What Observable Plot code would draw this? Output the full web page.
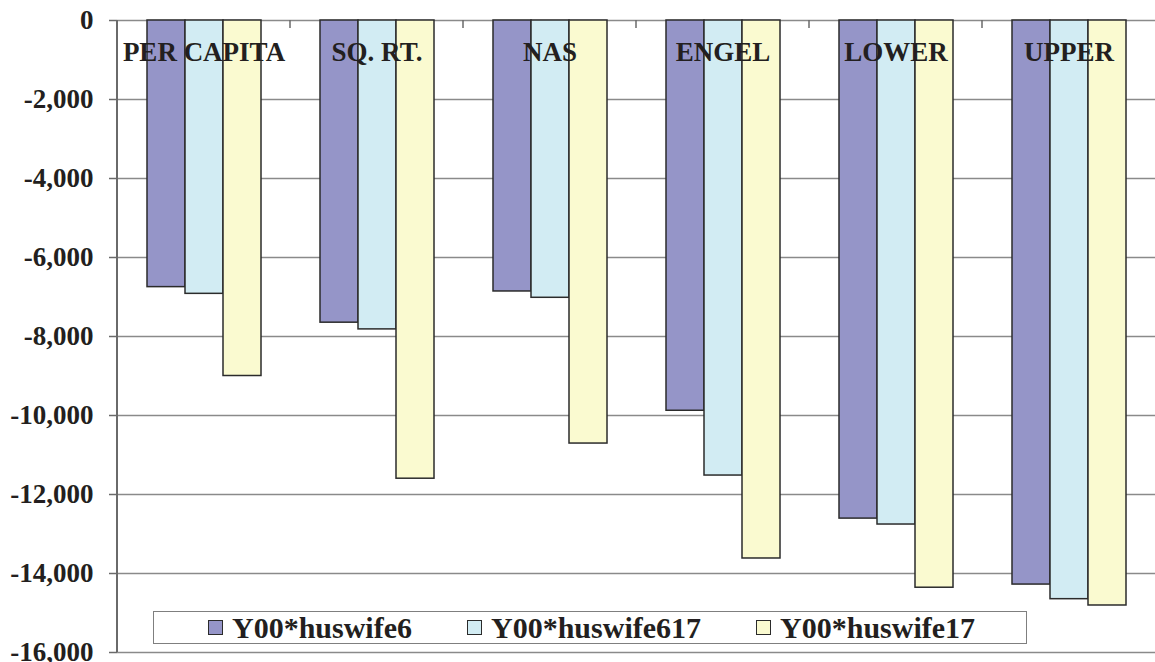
<!DOCTYPE html>
<html>
<head>
<meta charset="utf-8">
<script src="https://cdn.jsdelivr.net/npm/d3@7"></script>
<script src="https://cdn.jsdelivr.net/npm/@observablehq/plot@0.6"></script>
<style>
  html, body { margin: 0; padding: 0; background: #fff; }
  #chart { position: relative; width: 1155px; height: 662px; }
  #legend {
    position: absolute; left: 153px; top: 611px; width: 874px; height: 33px;
    box-sizing: border-box; border: 1.5px solid #7f7f7f; background: #fff;
    display: flex; align-items: center; padding-left: 54px;
    font-family: "Liberation Serif", "Times New Roman", serif; font-weight: bold;
    font-size: 30px; color: #231f20;
  }
  #legend .item { display: flex; align-items: center; margin-right: 55px; }
  #legend .sw { width: 13px; height: 13px; border: 1.5px solid #2b2b2b; margin-right: 9px; }
</style>
</head>
<body>
<div id="chart"></div>
<script>
// Equivalence-scale groups along the x axis
const categories = ["PER CAPITA", "SQ. RT.", "NAS", "ENGEL", "LOWER", "UPPER"];
// Interaction terms (one bar per term in every group)
const series = ["Y00*huswife6", "Y00*huswife617", "Y00*huswife17"];
const colors = ["#9595c8", "#d2ecf3", "#fafad0"];
// Estimated coefficients per group
const huswife6 = [-6750, -7650, -6860, -9880, -12610, -14280];
const huswife617 = [-6920, -7820, -7020, -11520, -12760, -14650];
const huswife17 = [-9000, -11600, -10710, -13620, -14360, -14810];
// Value-axis ticks
const yTicks = [0, -2000, -4000, -6000, -8000, -10000, -12000, -14000, -16000];

const valuesBySeries = [huswife6, huswife617, huswife17];
const rows = [];
categories.forEach((c, i) => {
  series.forEach((s, j) => rows.push({category: c, series: s, value: valuesBySeries[j][i]}));
});

const font = '"Liberation Serif", "Times New Roman", serif';
const ink = "#231f20";

const plot = Plot.plot({
  width: 1155,
  height: 662,
  marginLeft: 117,
  marginRight: 0,
  marginTop: 20,
  marginBottom: 10,
  style: {fontFamily: font, fontWeight: "bold", fontSize: "27px", color: ink, background: "transparent"},
  fx: {domain: categories, paddingInner: 0, paddingOuter: 0, axis: null, label: null},
  x: {domain: series, paddingInner: 0, paddingOuter: 0.75, axis: null, label: null},
  y: {domain: [-16000, 0], axis: null, label: null},
  color: {domain: series, range: colors},
  marks: [
    Plot.gridY(yTicks, {stroke: "#8a8a8a", strokeOpacity: 1, strokeWidth: 1.5}),
    Plot.barY(rows, {
      fx: "category", x: "series", y1: 0, y2: "value",
      fill: "series", stroke: "#2b2b2b", strokeWidth: 1.5
    }),
    Plot.text(categories, {
      fx: d => d, text: d => d, frameAnchor: "top", lineAnchor: "middle", dy: 32,
      fill: ink, fontSize: 27, fontWeight: "bold"
    }),
    Plot.axisY(yTicks, {
      tickSize: 8, tickPadding: 16, stroke: "#6a6a6a", strokeWidth: 1.5,
      fill: ink, fontSize: 27, fontWeight: "bold",
      tickFormat: d => d.toLocaleString("en-US"), label: null
    })
  ]
});

document.getElementById("chart").appendChild(plot);

// Left value axis line and the small category dividers hanging from the zero line
const fx = plot.scale("fx");
const yS = plot.scale("y");
const svg = d3.select(plot);
const y0 = yS.apply(0), yBottom = yS.apply(-16000);
const left = fx.apply(categories[0]);
svg.append("line")
  .attr("x1", left).attr("x2", left).attr("y1", y0).attr("y2", yBottom)
  .attr("stroke", "#6a6a6a").attr("stroke-width", 2);
categories.slice(1).forEach(c => {
  const x = fx.apply(c);
  svg.append("line")
    .attr("x1", x).attr("x2", x).attr("y1", y0).attr("y2", y0 + 8)
    .attr("stroke", "#6a6a6a").attr("stroke-width", 1.5);
});

// Legend box drawn over the lower part of the plot
const legend = d3.select("#chart").append("div").attr("id", "legend");
series.forEach((s, i) => {
  const item = legend.append("div").attr("class", "item");
  item.append("div").attr("class", "sw").style("background", colors[i]);
  item.append("span").text(s);
});
</script>
</body>
</html>
